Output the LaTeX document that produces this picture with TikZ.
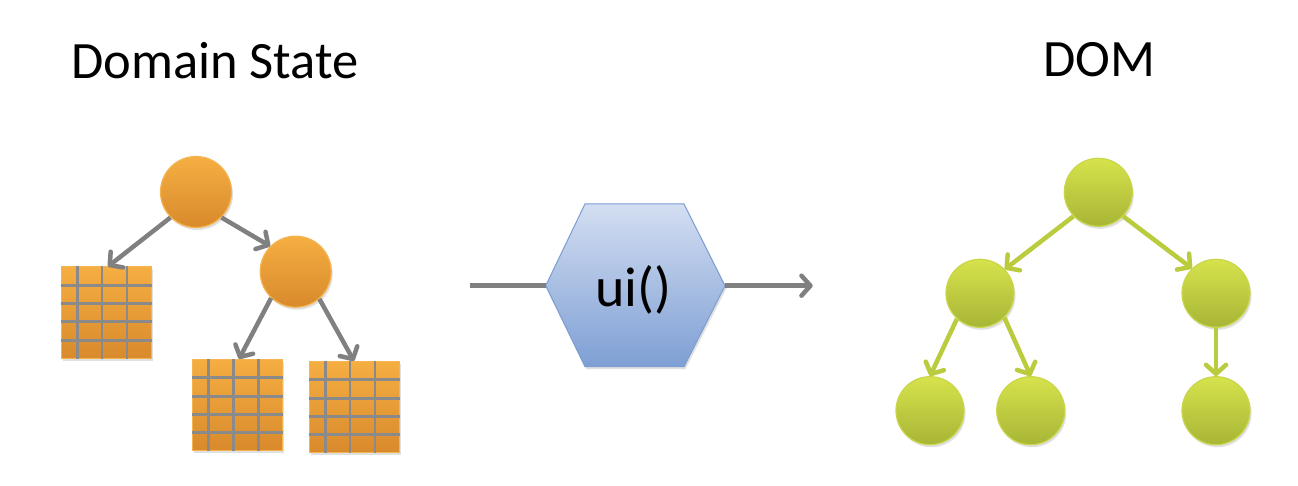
\documentclass[tikz,border=0pt]{standalone}
\usepackage{fontspec}
\setmainfont{Carlito}
\usetikzlibrary{arrows.meta,calc,shadows}
\definecolor{orTop}{HTML}{F5AE42}
\definecolor{orBot}{HTML}{D98A2C}
\definecolor{orEdge}{HTML}{F5B450}
\definecolor{grTop}{HTML}{D6E34C}
\definecolor{grBot}{HTML}{A8B536}
\definecolor{grEdge}{HTML}{C9D648}
\definecolor{grArrow}{HTML}{BBCB3E}
\definecolor{gyArrow}{HTML}{808080}
\definecolor{gridGray}{HTML}{8A8A8A}
\definecolor{hxTop}{HTML}{D3DEF1}
\definecolor{hxBot}{HTML}{7E9FD4}
\definecolor{hxEdge}{HTML}{7D9CD2}
\tikzset{
  title/.style={font=\fontsize{52.5}{60}\selectfont, anchor=base, inner sep=0},
  softshadow/.style={drop shadow={opacity=0.12, shadow xshift=1.5pt, shadow yshift=-2.5pt, fill=black}},
  onode/.style={circle, minimum size=71pt, inner sep=0, draw=orEdge, line width=1.2pt, top color=orTop, bottom color=orBot, softshadow},
  gnode/.style={circle, minimum size=68pt, inner sep=0, draw=grEdge, line width=1.2pt, top color=grTop, bottom color=grBot, softshadow},
  gridbox/.style={rectangle, minimum width=90pt, minimum height=91pt, inner sep=0, draw=orEdge, line width=1pt, top color=orTop, bottom color=orBot, softshadow},
  gridline/.style={draw=gridGray, line width=2.8pt},
  tipA/.style={-{Straight Barb[length=9pt,width=20pt,line width=4.5pt,round]}},
  garrow/.style={draw=gyArrow, line width=4.5pt, tipA},
  garrowplain/.style={draw=gyArrow, line width=4.5pt},
  larrow/.style={draw=grArrow, line width=4.5pt, tipA},
  hexshape/.style={draw=hxEdge, line width=1pt, top color=hxTop, bottom color=hxBot, softshadow},
  hexlabel/.style={font=\fontsize{56}{64}\selectfont, anchor=base, inner sep=0}
}
\newcommand{\gridlinesof}[1]{%
  \foreach \f in {0.185,0.456,0.73}
    \draw[gridline] ($(#1.north west)!\f!(#1.north east)$) -- ($(#1.south west)!\f!(#1.south east)$);
  \foreach \f in {0.205,0.405,0.60,0.80}
    \draw[gridline] ($(#1.north west)!\f!(#1.south west)$) -- ($(#1.north east)!\f!(#1.south east)$);
}
\begin{document}
\begin{tikzpicture}[x=1pt,y=-1pt]
\useasboundingbox[fill=white] (0,0) rectangle (1298,486);

% titles
\node[title] (tds) at (215,78.3) {Domain State};
\node[title] (tdom) at (1099,77) {DOM};

% orange tree
\node[onode] (r1) at (196,192) {};
\node[onode] (r2) at (295.7,271.7) {};
\node[gridbox] (g1) at (106,312.5) {};
\node[gridbox] (g2) at (237.5,405) {};
\node[gridbox] (g3) at (354,407) {};
\gridlinesof{g1}
\gridlinesof{g2}
\gridlinesof{g3}
\draw[garrow] (r1.225) -- ($(g1.north)+(2,0)$);
\draw[garrow] (r1.315) -- (r2.135);
\draw[garrow] (r2.227) -- ($(g2.north)+(1.5,0)$);
\draw[garrow] (r2.311) -- (g3.north);

% hexagon
\coordinate (hexL) at (545.7,285.7);
\coordinate (hexR) at (725,285.7);
\path[hexshape] (585,204) -- (684,204) -- (hexR) -- (684,366.7) -- (585,366.7) -- (hexL) -- cycle;
\node[hexlabel] (ui) at (633.5,306.7) {ui()};
\coordinate (inL) at (470,285.7);
\coordinate (outR) at (812.7,285.7);
\draw[garrowplain] (inL) -- (hexL);
\draw[garrow] (hexR) -- (outR);

% green tree
\node[gnode] (d0) at (1098.3,192.3) {};
\node[gnode] (d1) at (980,293.3) {};
\node[gnode] (d2) at (1216,293.3) {};
\node[gnode] (d3) at (930,410.7) {};
\node[gnode] (d4) at (1030.7,410.7) {};
\node[gnode] (d5) at (1216,410.7) {};
\draw[larrow] (d0.224) -- (d1.44);
\draw[larrow] (d0.316) -- (d2.134);
\draw[larrow] (d1.228) -- (d3.north);
\draw[larrow] (d1.315) -- (d4.north);
\draw[larrow] (d2.south) -- (d5.north);
\end{tikzpicture}
\end{document}
